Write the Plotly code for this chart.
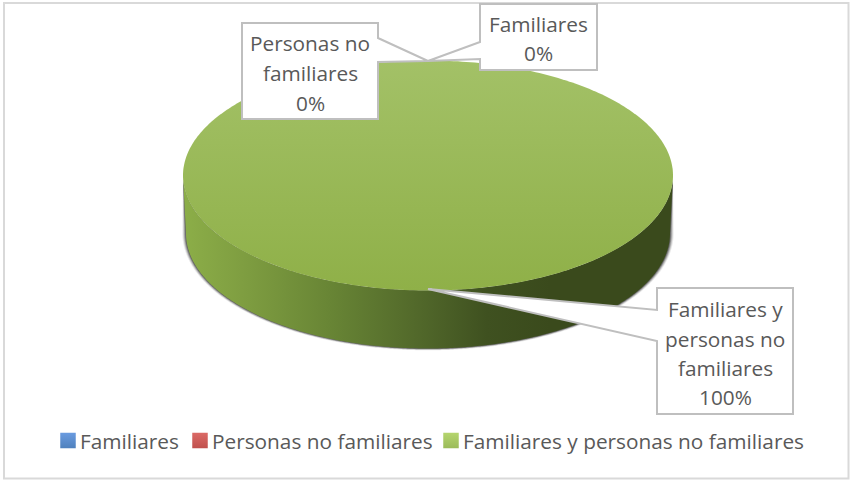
import numpy as np
import plotly.graph_objects as go

# ---- data ----
categories = ["Familiares", "Personas no familiares", "Familiares y personas no familiares"]
values = [0, 0, 100]
legend_colors = ["#4F81BD", "#C0504D", "#9BBB59"]
legend_light = ["#6A9BE0", "#DB6A66", "#B5D56E"]
callout_lines = [["Familiares"], ["Personas no", "familiares"], ["Familiares y", "personas no", "familiares"]]

# ---- geometry of the drawing (pixel space) ----
W, H = 850, 480
CX, CY, RX, RY, DEPTH = 428, 175.5, 245, 115, 58
RX_BASE = 242
TEXT = "#595959"
FONT = "Open Sans"
FS = 20.8
LEGEND_X = [40, 172, 423]
LEGEND_Y = 441

shares = np.array(values, dtype=float) / sum(values)
edges = np.concatenate([[0], np.cumsum(shares)]) * 2 * np.pi - np.pi / 2

fig = go.Figure()


def rim(a0, a1, n=360, rx=RX, ry=RY, dy=0.0):
    t = np.linspace(a0, a1, n)
    return CX + rx * np.cos(t), CY + dy + ry * np.sin(t)


# soft shadow behind the wall
for grow, op in [(3.6, 0.10), (2.6, 0.20), (1.6, 0.32), (0.7, 0.45)]:
    x1, y1 = rim(0, np.pi, rx=RX_BASE + grow, ry=RY + grow * 0.5, dy=DEPTH)
    x2, y2 = rim(np.pi, 0)
    fig.add_trace(go.Scatter(x=np.r_[x1, x2], y=np.r_[y1, y2], mode="none", fill="toself",
                             fillcolor=f"rgba(40,40,40,{op})", showlegend=False, hoverinfo="skip"))

# wall of the disc, then each slice's top face
x1, y1 = rim(0, np.pi, rx=RX_BASE, dy=DEPTH)
x2, y2 = rim(np.pi, 0)
fig.add_trace(go.Scatter(
    x=np.r_[x1, x2], y=np.r_[y1, y2], mode="none", fill="toself", showlegend=False, hoverinfo="skip",
    fillgradient=dict(type="horizontal", start=CX - RX, stop=CX + RX,
                      colorscale=[[0, "#8CAE48"], [0.12, "#7F9E41"], [0.3, "#688535"],
                                  [0.5, "#4F6529"], [0.62, "#3F5120"], [0.75, "#3A4A1C"], [1, "#3A4A1C"]])))

for i, name in enumerate(categories):
    if values[i] == 0:
        continue
    xs, ys = rim(edges[i], edges[i + 1])
    fig.add_trace(go.Scatter(
        x=xs, y=ys, mode="none", fill="toself", showlegend=False, name=name,
        fillgradient=dict(type="vertical", start=CY - RY, stop=CY + RY,
                          colorscale=[[0, "#A3C167"], [1, "#8FB048"]])))

# legend entries, one positioned legend per category
legend_ids = ["legend", "legend2", "legend3"]
legend_layout = {}
for i, name in enumerate(categories):
    fig.add_trace(go.Scatter(
        x=[None], y=[None], mode="markers", name=name, legend=legend_ids[i],
        marker=dict(symbol="square", size=15.5, color=legend_light[i],
                    gradient=dict(type="vertical", color=legend_colors[i]))))
    legend_layout[legend_ids[i]] = dict(
        x=LEGEND_X[i] / W, xanchor="left", y=1 - LEGEND_Y / H, yanchor="middle",
        font=dict(family=FONT, size=FS, color=TEXT), itemsizing="trace", bgcolor="rgba(0,0,0,0)")

# frame and callouts
shapes = [dict(type="rect", x0=4, y0=3, x1=848.5, y1=478.5, line=dict(color="#D9D9D9", width=2), layer="below")]
callouts = [
    dict(box=(480, 4, 597, 70), wedge=[(480, 59), (428, 61), (480, 42)], side="left", cx=538, y=[24, 53]),
    dict(box=(242, 23, 378, 119), wedge=[(378, 38), (428, 61), (378, 62)], side="right", cx=310, y=[43, 73, 103]),
    dict(box=(657, 288, 793, 414), wedge=[(657, 341), (428, 289), (657, 310)], side="left", cx=725, y=[309, 339, 368, 397]),
]
annotations = []
for i, c in enumerate(callouts):
    x0, y0, x1, y1 = c["box"]
    a, b, d = c["wedge"]
    if c["side"] == "left":
        path = f"M{x0},{y0} L{x1},{y0} L{x1},{y1} L{x0},{y1} L{a[0]},{a[1]} L{b[0]},{b[1]} L{d[0]},{d[1]} Z"
    else:
        path = f"M{x0},{y0} L{x1},{y0} L{a[0]},{a[1]} L{b[0]},{b[1]} L{d[0]},{d[1]} L{x1},{y1} L{x0},{y1} Z"
    shapes.append(dict(type="path", path=path, fillcolor="white", line=dict(color="#BFBFBF", width=2), layer="above"))
    lines = callout_lines[i] + [f"{shares[i] * 100:.0f}%"]
    for txt, yy in zip(lines, c["y"]):
        annotations.append(dict(x=c["cx"], y=yy, text=txt, showarrow=False, xanchor="center", yanchor="middle",
                                font=dict(family=FONT, size=FS, color=TEXT)))

fig.update_layout(
    width=W, height=H, autosize=False,
    margin=dict(l=0, r=0, t=0, b=0),
    paper_bgcolor="white", plot_bgcolor="white",
    xaxis=dict(range=[0, W], visible=False, fixedrange=True),
    yaxis=dict(range=[H, 0], visible=False, fixedrange=True),
    shapes=shapes, annotations=annotations,
    hovermode=False,
    **legend_layout,
)
page_css = (
    "var s=document.createElement('style');"
    "s.textContent='body{margin:0}html{overflow:hidden}.legendsymbols{transform:translate(8px,0)}';"
    "document.head.appendChild(s);"
)
fig.write_html("out.html", config=dict(displayModeBar=False), post_script=page_css)
